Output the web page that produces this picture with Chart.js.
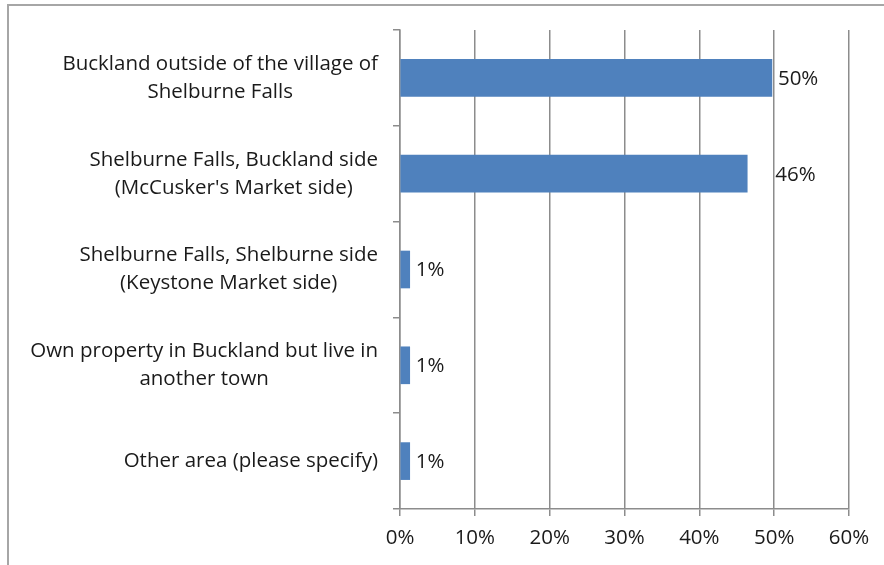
<!DOCTYPE html>
<html>
<head>
<meta charset="utf-8">
<script src="https://cdn.jsdelivr.net/npm/chart.js@4"></script>
<style>
  html, body { margin: 0; padding: 0; background: #fff; overflow: hidden; }
  #wrap { position: relative; width: 884px; height: 565px; }
  #frame { position: absolute; left: 7px; top: 4px; width: 900px; height: 600px;
           border: 2px solid #a6a6a6; box-sizing: border-box; }
  canvas { position: absolute; left: 0; top: 0; }
</style>
</head>
<body>
<div id="wrap">
  <div id="frame"></div>
  <canvas id="chartOne" width="884" height="565"></canvas>
</div>
<script>
const categories = [
    ['Buckland outside of the village of', 'Shelburne Falls'],
    ['Shelburne Falls, Buckland side', "(McCusker's Market side)"],
    ['Shelburne Falls, Shelburne side', '(Keystone Market side)'],
    ['Own property in Buckland but live in', 'another town'],
    ['Other area (please specify)']
];
const values = [49.7, 46.4, 1.3, 1.3, 1.3];
const valueLabels = ['50%', '46%', '1%', '1%', '1%'];
const xTicks = [0, 10, 20, 30, 40, 50, 60];

const textFont = '20.5px "Open Sans"';
const textColor = '#1a1a1a';
const lineColor = '#8c8c8c';

// Excel style category labels: block right aligned, lines centred in the block
const yLabels = {
    id: 'yLabels',
    afterDraw(chart) {
        const ctx = chart.ctx;
        const y = chart.scales.y;
        ctx.save();
        ctx.font = textFont;
        ctx.fillStyle = textColor;
        ctx.textAlign = 'center';
        ctx.textBaseline = 'middle';
        categories.forEach((lines, i) => {
            const w = Math.max(...lines.map(l => ctx.measureText(l).width));
            const cx = y.right - 22 - w / 2;
            const cy = y.getPixelForTick(i);
            lines.forEach((l, j) => {
                ctx.fillText(l, cx, cy + (j - (lines.length - 1) / 2) * 28);
            });
        });
        ctx.restore();
    }
};

const barLabels = {
    id: 'barLabels',
    afterDatasetsDraw(chart) {
        const ctx = chart.ctx;
        const meta = chart.getDatasetMeta(0);
        ctx.save();
        ctx.font = textFont;
        ctx.fillStyle = textColor;
        ctx.textAlign = 'left';
        ctx.textBaseline = 'middle';
        meta.data.forEach((bar, i) => {
            const shift = i === 1 ? 22 : 0;
            ctx.fillText(valueLabels[i], bar.x + 6 + shift, bar.y + 1);
        });
        ctx.restore();
    }
};

const chart1 = document.getElementById('chartOne');

new Chart(chart1, {
type: 'bar',
data: {
    labels: categories,
    datasets: [{
    data: values,
    backgroundColor: '#4f81bd',
    borderWidth: 0,
    barThickness: 37
    }]
},
options: {
    indexAxis: 'y',
    responsive: false,
    animation: false,
    events: [],
    layout: { padding: { top: 30, right: 35, left: 0, bottom: 0 } },
    plugins: { legend: { display: false }, tooltip: { enabled: false } },
    scales: {
    x: {
        min: 0,
        max: 60,
        afterBuildTicks: s => { s.ticks = xTicks.map(v => ({ value: v })); },
        afterFit: s => { s.height = 56; },
        grid: { color: lineColor, lineWidth: 1.5, tickLength: 7 },
        border: { color: lineColor, width: 1.5 },
        ticks: {
            padding: 10,
            color: textColor,
            font: { family: 'Open Sans', size: 20.5 },
            callback: v => v + '%'
        }
    },
    y: {
        afterFit: s => { s.width = 400; },
        grid: { drawOnChartArea: false, color: lineColor, lineWidth: 1.5, tickLength: 7 },
        border: { color: lineColor, width: 1.5 },
        ticks: { display: false }
    }
    }
},
plugins: [yLabels, barLabels]
});
</script>
</body>
</html>
